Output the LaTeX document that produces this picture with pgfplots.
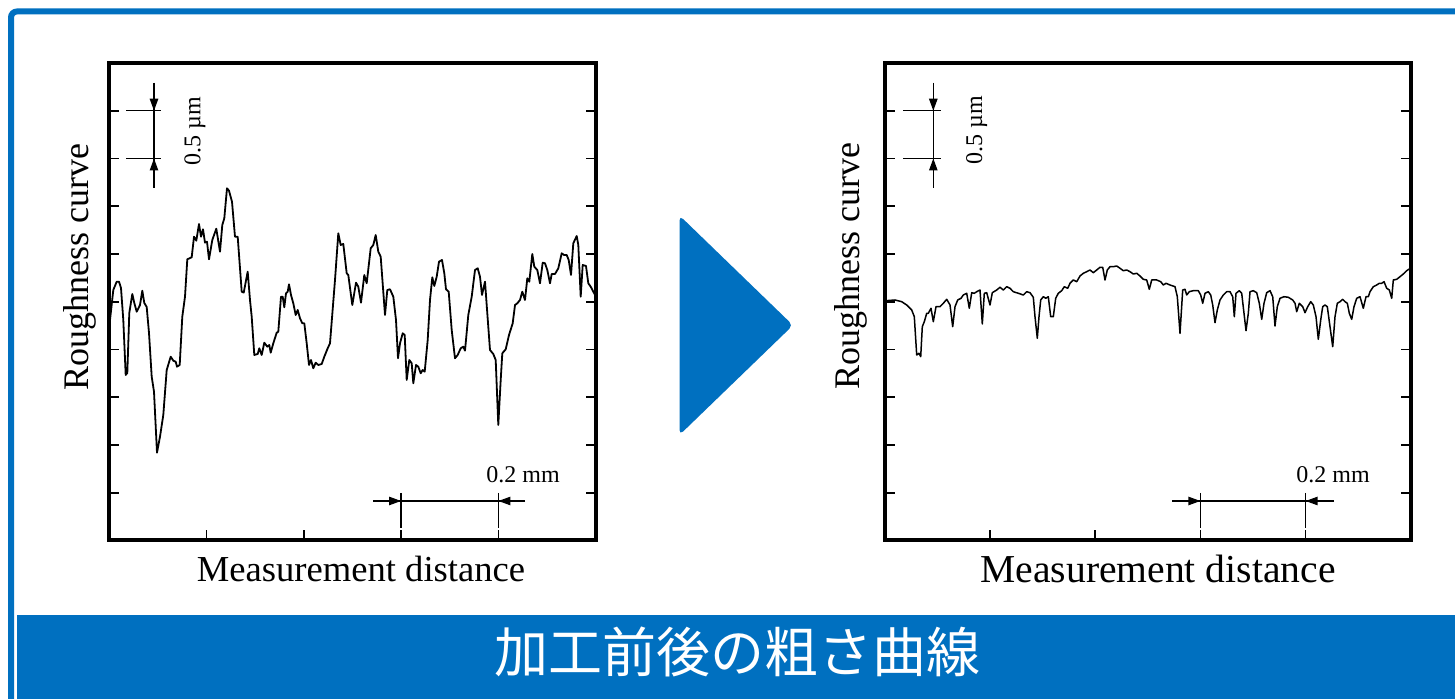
\documentclass[border=0pt]{standalone}
\usepackage{pgfplots}
\pgfplotsset{compat=1.18}
\usepackage{fontspec}
\setmainfont{Liberation Serif}
\newfontfamily\cjk{Noto Sans CJK JP}
\usetikzlibrary{arrows.meta}
\definecolor{kblue}{RGB}{0,112,192}
\pgfplotsset{rough/.style={scale only axis, anchor=south west, height=238.75pt,
  xmin=0,xmax=1,ymin=0,ymax=5,
  xtick={0.2,0.4,0.6,0.8}, ytick={0.5,1.0,1.5,2.0,2.5,3.0,3.5,4.0,4.5},
  xticklabels={}, yticklabels={}, xtick pos=bottom, ytick pos=both,
  tick align=inside, major tick length=5pt, tick style={black,line width=0.85pt},
  axis line style={line width=2pt}, clip=false}}
\begin{document}
\begin{tikzpicture}
\useasboundingbox (0,0) rectangle (727.5pt,349.5pt);
\fill[white] (0,0) rectangle (727.5pt,349.5pt);
\begin{scope}[x=0.5pt,y=-0.5pt,shift={(0,349.5pt)}]
\clip (0,0) rectangle (1455,699);
\draw[kblue, line width=3pt, rounded corners=3pt] (11,11.5) rectangle (1466,712);
\fill[kblue] (17.3,615) rectangle (1460,705);
\fill[kblue, rounded corners=2.5pt] (679.5,215.5) -- (793,325.3) -- (679.5,435) -- cycle;
\node[text=white, font=\cjk\fontsize{27}{30}\selectfont] at (737,652) {加工前後の粗さ曲線};
\end{scope}

% before processing
\begin{axis}[rough, at={(54.65pt,79.25pt)}, width=243.2pt,
  x filter/.expression={(x-109.3)/486.4}, y filter/.expression={(540.5-y)/477.5*5}]
\addplot[black, line width=0.9pt, line join=round] coordinates {
(110,320)(113.3,290)(116.7,281.7)(119,281.7)(121,288)(123.3,320)(125.7,375)(127.3,373)(129.3,313)(132.3,294)(134.3,303)(136.7,311.7)(140,305)(142.3,290.7)(144.3,303)(146.7,307)(149,333)(151.7,376.7)(154,391.7)(157,452.7)(160,436.7)(163.3,415)(166.7,370)(170.7,356.7)(173.3,360.7)(175.7,361.7)(177,366.7)(179.7,365)(182.3,316.7)(185,296.7)(187.3,259.3)(191.7,257.3)(194,236.7)(196.3,240.7)(199,224)(201,236.7)(203,229.3)(205,242.7)(207,241.7)(209,259.3)(212.3,240)(216.3,228.7)(220,251.7)(222.3,225)(224.3,218.3)(227,188.3)(229,190.7)(232,201.7)(235,236.7)(237.7,236.7)(241.7,291.7)(243.7,292.7)(247.7,271.7)(250,300)(251.7,316.7)(254.3,355)(257.7,354)(259.3,348.3)(261.7,355)(264.3,342.7)(267.3,346.7)(269.3,345)(270.7,352.7)(273.3,343.3)(276.7,332.7)(278.3,331.7)(281,296.7)(282.7,296.7)(284.3,307.3)(286,293.3)(287.7,291.7)(289,284.3)(291,295)(293.3,303.3)(295.7,315)(297.7,310)(300,318.3)(302.3,323.3)(304.3,323.3)(306.7,343.3)(309,365)(311,360)(313.3,368.3)(315.7,362.7)(318.3,365)(321.7,364)(324.3,356.7)(327.7,348.3)(330,343.3)(335,280)(338.3,233.3)(340.7,245)(343.3,244)(346.7,273.3)(348.3,275)(352.3,305)(356,282.7)(358.3,286.7)(361,302.7)(364.3,275)(366.7,283.3)(370.7,248.3)(373.3,245)(375.7,235)(378.3,251.7)(380.7,256.7)(385,315)(387.3,290)(390,289.3)(393.3,296.7)(396,320)(398,358.3)(400,343.3)(402.7,333.3)(404.7,335)(406.7,380)(409.3,360)(411.7,363.3)(413.3,383.3)(416,365)(418.3,366.7)(420.7,373.3)(422.7,370)(424.7,371.7)(427.7,340)(430,300)(432.3,277.3)(434.3,286)(436.7,276.7)(439,261.7)(442,260)(444.3,273.3)(446,289.3)(448.7,291.7)(451.7,330)(455,358.3)(457.7,355)(460.7,348.3)(463.3,346.7)(465,350.7)(468.3,315)(471.7,296.7)(475,270)(477.7,268.3)(480,276.7)(482,295)(485,281.7)(487.3,313.3)(490,350)(493.3,354)(495.7,360)(498.3,425)(500.7,380)(502.3,353.3)(505.7,349.3)(509,335)(512.7,323.3)(515,305)(517.3,303.3)(520,300)(522.3,291.7)(525,300)(527.3,278.3)(529.3,281.7)(532.3,254)(534.3,266.7)(537.3,270)(540,283.3)(542.7,262.7)(545,263.3)(547.3,270)(550,283.3)(551.7,274)(555,274)(558.3,268.3)(561.7,253.3)(564,255)(566.7,255)(568.7,260)(571,275)(573.3,243.3)(576.7,236)(578.3,245)(580.7,296.7)(582.7,265)(586,266)(588.3,283.3)(590.7,286.7)(593.3,291.7)(595.7,296)
};
\end{axis}

% after processing
\begin{axis}[rough, at={(442.4pt,79.25pt)}, width=263pt,
  x filter/.expression={(x-884.8)/526}, y filter/.expression={(540.5-y)/477.5*5}]
\addplot[black, line width=0.75pt, line join=round] coordinates {
(886,300.7)(895,300)(901.7,301.7)(906.7,305)(911.7,310)(914.3,316.7)(916.7,355)(919,353.3)(920.7,356.7)(922.3,326.7)(924.3,321.7)(926.7,313.3)(928.3,313.3)(931,308.3)(933.3,321.7)(936,306.7)(940,306.7)(943.3,303.3)(946.7,299.3)(950,305)(952.7,326.7)(955,306.7)(957.7,300)(961,298.3)(963.3,295)(966.7,293.3)(969.3,308.3)(971.7,292.7)(974.3,293.3)(976.7,291.7)(980,290)(982.3,324)(984.3,293.3)(986.7,292.7)(990,305)(992.3,292.7)(996.7,290)(1000,287.3)(1003.3,290)(1006.7,286.7)(1010,288.3)(1013.3,291.7)(1018.3,293.3)(1023.3,295)(1026.7,291.7)(1030,292.7)(1033.3,297.3)(1035,316.7)(1037.3,338.3)(1039,316.7)(1040.7,300)(1043.3,296.7)(1045.7,298.3)(1048.3,296.7)(1050.7,316.7)(1053.3,316.7)(1055.7,298.3)(1058.3,293.3)(1061.7,290.7)(1064.3,286.7)(1067.7,288.3)(1070,283.3)(1073.3,280)(1076.7,281.7)(1080,276)(1083.3,273.3)(1086.7,271.7)(1090,270)(1093.3,272.7)(1096.7,270)(1100,267.3)(1102.7,267.3)(1105,280)(1107.3,270)(1110,266.7)(1113.3,266.7)(1116.7,266)(1120,268.3)(1123.3,270.7)(1126.7,270)(1130,271.7)(1133.3,274)(1136.7,273.3)(1140,276)(1143.3,279.3)(1146.7,280)(1149.3,289.3)(1151.7,280)(1156.7,280)(1160.7,281.7)(1163.3,285)(1166,283.3)(1170,285)(1175,286.7)(1177.3,296.7)(1180,333.3)(1182.7,290)(1185,289.3)(1186.7,295)(1189.3,291.7)(1193.3,290.7)(1198.3,290.7)(1200.7,295)(1202.7,303.3)(1205,293.3)(1208.3,291.7)(1210.7,295)(1212.7,305)(1215,322.7)(1217.3,310)(1220,300)(1223.3,295)(1226.7,291.7)(1230,291.7)(1232.7,296.7)(1234.3,316.7)(1236,293.3)(1239.3,290.7)(1241.7,293.3)(1244,313.3)(1246,330.7)(1248.3,313.3)(1250,291.7)(1253.3,290.7)(1256.7,292.7)(1259.3,303.3)(1261.7,319.3)(1264,303.3)(1266.7,292.7)(1270,290.7)(1272.7,296.7)(1275,326)(1277.3,306.7)(1280,298.3)(1284,296.7)(1288.3,297.3)(1292.7,300)(1295,303.3)(1296.7,311.7)(1299.3,303.3)(1302.7,306.7)(1305,312.7)(1307.7,306.7)(1310.7,301.7)(1313.3,305)(1316,316.7)(1318.3,339.3)(1320.7,320)(1322.7,306.7)(1325,305)(1327.3,306.7)(1330,326.7)(1332.7,346.7)(1335,316.7)(1337.3,303.3)(1340,301.7)(1342.7,299.3)(1345,301.7)(1347.3,303.3)(1349.3,313.3)(1351.7,319.3)(1354,306.7)(1356.7,298.3)(1360,296.7)(1363.3,308.3)(1366,296.7)(1368.3,296.7)(1370,291.7)(1373.3,286.7)(1376.7,285)(1379.3,283.3)(1381.7,283.3)(1384,281.7)(1386.7,288.3)(1389.3,290)(1391.7,298.3)(1393.3,280)(1396.7,279.3)(1400,276.7)(1403.3,274)(1406.7,270.7)(1410.8,268)
};
\end{axis}

\begin{scope}[x=0.5pt,y=-0.5pt,shift={(0,349.5pt)}, line width=0.65pt,
  tip/.style={-{Triangle[length=6pt,width=4.2pt]}}]
% left scale bars
\draw (154,83)--(154,188);
\draw[tip] (154,83)--(154,110.75);
\draw[tip] (154,188)--(154,158.5);
\draw (126,110.75)--(161,110.75);
\draw (126,158.5)--(161,158.5);
\node[rotate=90, font=\fontsize{12}{14}\selectfont] at (195,131) {0.5 µm};
\draw (373,501)--(525,501);
\draw[tip] (373,501)--(401.1,501);
\draw[tip] (525,501)--(498.4,501);
\draw (401.1,493)--(401.1,528);
\draw (498.4,493)--(498.4,528);
\node[font=\fontsize{12}{14}\selectfont] at (523,475) {0.2 mm};
% right scale bars
\draw (933.3,83)--(933.3,188);
\draw[tip] (933.3,83)--(933.3,110.75);
\draw[tip] (933.3,188)--(933.3,158.5);
\draw (903.3,110.75)--(940.7,110.75);
\draw (903.3,158.5)--(940.7,158.5);
\node[rotate=90, font=\fontsize{12}{14}\selectfont] at (976.7,130) {0.5 µm};
\draw (1172,501)--(1334,501);
\draw[tip] (1172,501)--(1200.4,501);
\draw[tip] (1334,501)--(1305.6,501);
\draw (1200.4,493)--(1200.4,528);
\draw (1305.6,493)--(1305.6,528);
\node[font=\fontsize{12}{14}\selectfont] at (1333,475) {0.2 mm};
% labels
\node[rotate=90, font=\fontsize{18}{20}\selectfont] at (80,267) {Roughness curve};
\node[rotate=90, font=\fontsize{18}{20}\selectfont] at (851,266) {Roughness curve};
\node[font=\fontsize{18.3}{20}\selectfont] at (361,569) {Measurement distance};
\node[font=\fontsize{19.8}{22}\selectfont] at (1158,569) {Measurement distance};
\end{scope}
\end{tikzpicture}
\end{document}
